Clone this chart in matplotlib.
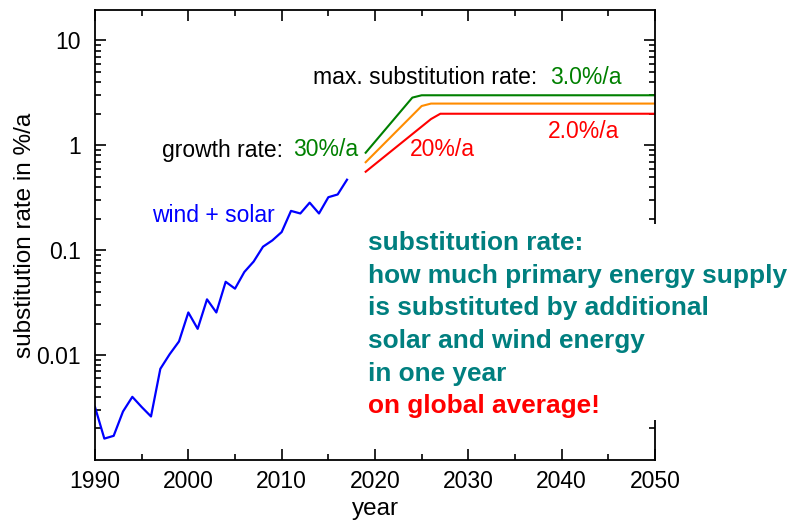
import matplotlib
matplotlib.use('Agg')
import matplotlib.pyplot as plt
from matplotlib.ticker import LogLocator, FixedLocator, NullFormatter

plt.rcParams['font.family'] = ['Liberation Sans', 'DejaVu Sans']

# historische Daten wind + solar
years = [1990, 1991, 1992, 1993, 1994, 1995, 1996, 1997, 1998, 1999,
         2000, 2001, 2002, 2003, 2004, 2005, 2006, 2007, 2008, 2009,
         2010, 2011, 2012, 2013, 2014, 2015, 2016, 2017]
wind_solar = [0.0032, 0.0016, 0.0017, 0.0029, 0.0040, 0.0032, 0.0026, 0.0074, 0.0102, 0.0135,
              0.0255, 0.0178, 0.034, 0.0255, 0.050, 0.043, 0.062, 0.078, 0.108, 0.124,
              0.149, 0.237, 0.224, 0.284, 0.224, 0.32, 0.34, 0.47]

# Szenarien
green_years = [2019, 2024, 2025, 2050]
green_vals = [0.85, 2.85, 3.0, 3.0]
orange_years = [2019, 2025, 2026, 2050]
orange_vals = [0.69, 2.37, 2.5, 2.5]
red_years = [2019, 2026, 2027, 2050]
red_vals = [0.56, 1.78, 2.0, 2.0]

fig = plt.figure(figsize=(7.96, 5.21), dpi=100)
ax = fig.add_axes([95/796, 1 - 460/521, 560/796, 450/521])

ax.plot(years, wind_solar, color='#0000ff', lw=1.6)
ax.plot(green_years, green_vals, color='#008000', lw=1.5)
ax.plot(orange_years, orange_vals, color='#ff8c00', lw=1.5)
ax.plot(red_years, red_vals, color='#ff0000', lw=1.5)

ax.set_yscale('log')
ax.set_xlim(1990, 2050)
ax.set_ylim(0.001, 19.5)
ax.set_yticks([0.01, 0.1, 1, 10])
ax.set_yticklabels(['0.01', '0.1', '1', '10'])
ax.yaxis.set_minor_locator(LogLocator(base=10, subs=range(2, 10)))
ax.yaxis.set_minor_formatter(NullFormatter())
ax.set_xticks([1990, 2000, 2010, 2020, 2030, 2040, 2050])
ax.xaxis.set_minor_locator(FixedLocator(range(1995, 2050, 10)))

ax.tick_params(which='both', direction='in', top=True, right=True, labelsize=16.5, width=1.2)
ax.tick_params(which='major', length=8)
ax.tick_params(which='minor', length=4)
ax.tick_params(axis='y', pad=10)
ax.tick_params(axis='x', pad=7)
for s in ax.spines.values():
    s.set_linewidth(1.3)

ax.set_xlabel('year', fontsize=17.5, labelpad=4)
ax.set_ylabel('substitution rate in %/a', fontsize=17.5, labelpad=0)

# Beschriftungen
fs = 16.5
fig.text(313/796, 1 - 77/521, 'max. substitution rate: ', fontsize=fs, va='center', ha='left')
fig.text(622/796, 1 - 77/521, '3.0%/a', fontsize=fs, va='center', ha='right', color='#008000')
fig.text(162/796, 1 - 150/521, 'growth rate: ', fontsize=fs, va='center', ha='left')
fig.text(358/796, 1 - 150/521, '30%/a', fontsize=fs, va='center', ha='right', color='#008000')
fig.text(410/796, 1 - 150/521, '20%/a', fontsize=fs, va='center', ha='left', color='#ff0000')
fig.text(548/796, 1 - 132/521, '2.0%/a', fontsize=fs, va='center', ha='left', color='#ff0000')
fig.text(152/796, 1 - 216/521, 'wind + solar', fontsize=fs, va='center', ha='left', color='#0000ff')

teal_lines = ['substitution rate:', 'how much primary energy supply',
              'is substituted by additional', 'solar and wind energy', 'in one year']
box_y0 = 243
dy = 32.7
bg = plt.Rectangle((362/796, 1 - 420/521), 434/796, 196/521, transform=fig.transFigure,
                   facecolor='white', edgecolor='none', zorder=5)
fig.patches.append(bg)
for i, t in enumerate(teal_lines):
    fig.text(368/796, 1 - (box_y0 + i*dy)/521, t, fontsize=18.9, fontweight='bold',
             color='#007f7f', va='center', ha='left', zorder=6)
fig.text(368/796, 1 - (box_y0 + 5*dy)/521, 'on global average!', fontsize=18.9, fontweight='bold',
         color='#ff0000', va='center', ha='left', zorder=6)

fig.savefig('out.png', dpi=100)
